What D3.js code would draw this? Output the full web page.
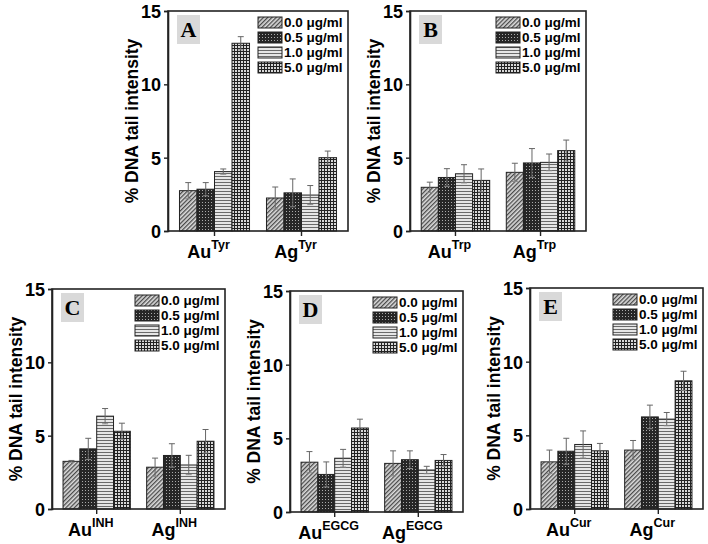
<!DOCTYPE html>
<html><head><meta charset="utf-8">
<script src="https://cdn.jsdelivr.net/npm/d3@7"></script>
<style>
html,body{margin:0;padding:0;background:#fff;}
svg{display:block;}
</style></head>
<body>
<svg id="chart" width="708" height="544"></svg>
<script>
// ---- data ----
const series = ["0.0 μg/ml", "0.5 μg/ml", "1.0 μg/ml", "5.0 μg/ml"];
const metals = ["Au", "Ag"];
const panelLetters = ["A", "B", "C", "D", "E"];
const ligands = ["Tyr", "Trp", "INH", "EGCG", "Cur"];
const yTicks = [0, 5, 10, 15];

const valuesA = [[2.75, 2.85, 4.05, 12.8], [2.25, 2.6, 2.45, 5.0]];
const errorsA = [[0.55, 0.45, 0.18, 0.45], [0.75, 0.95, 0.65, 0.45]];
const valuesB = [[2.98, 3.65, 3.9, 3.45], [4.0, 4.64, 4.68, 5.48]];
const errorsB = [[0.35, 0.6, 0.62, 0.78], [0.62, 0.98, 0.57, 0.72]];
const valuesC = [[3.25, 4.1, 6.33, 5.3], [2.85, 3.65, 3.0, 4.62]];
const errorsC = [[0.06, 0.72, 0.52, 0.55], [0.62, 0.8, 0.66, 0.8]];
const valuesD = [[3.38, 2.55, 3.65, 5.7], [3.3, 3.55, 2.85, 3.5]];
const errorsD = [[0.72, 0.85, 0.6, 0.6], [0.85, 0.6, 0.25, 0.4]];
const valuesE = [[3.2, 3.92, 4.38, 3.95], [4.0, 6.25, 6.1, 8.7]];
const errorsE = [[0.8, 0.88, 0.92, 0.5], [0.65, 0.8, 0.45, 0.65]];

const allValues = [valuesA, valuesB, valuesC, valuesD, valuesE];
const allErrors = [errorsA, errorsB, errorsC, errorsD, errorsE];

// ---- layout ----
const layout = [
  {l:168, r:348, t:11,  b:231},
  {l:410, r:586, t:11,  b:231},
  {l:52,  r:225, t:289, b:509},
  {l:290, r:463, t:291, b:512},
  {l:530, r:703, t:288, b:509}
];

const SANS = "'Liberation Sans', Arial, sans-serif";
const SERIF = "'Liberation Serif', 'Times New Roman', serif";

const svg = d3.select("#chart");
const defs = svg.append("defs");

// pattern 0: diagonal hatch
let p = defs.append("pattern").attr("id","pat0").attr("patternUnits","userSpaceOnUse")
  .attr("width",3).attr("height",3).attr("patternTransform","rotate(45)");
p.append("rect").attr("width",3).attr("height",3).attr("fill","#dcdcdc");
p.append("rect").attr("width",1.3).attr("height",3).attr("fill","#4a4a4a");
// pattern 1: dense dark checker
p = defs.append("pattern").attr("id","pat1").attr("patternUnits","userSpaceOnUse")
  .attr("width",3).attr("height",3);
p.append("rect").attr("width",3).attr("height",3).attr("fill","#262626");
p.append("rect").attr("x",1).attr("y",1).attr("width",1).attr("height",1).attr("fill","#aaa");
// pattern 2: horizontal lines
p = defs.append("pattern").attr("id","pat2").attr("patternUnits","userSpaceOnUse")
  .attr("width",3).attr("height",3);
p.append("rect").attr("width",3).attr("height",3).attr("fill","#e6e6e6");
p.append("rect").attr("y",2).attr("width",3).attr("height",1).attr("fill","#6a6a6a");
// pattern 3: grid mesh
p = defs.append("pattern").attr("id","pat3").attr("patternUnits","userSpaceOnUse")
  .attr("width",3).attr("height",3);
p.append("rect").attr("width",3).attr("height",3).attr("fill","#d8d8d8");
p.append("rect").attr("x",0).attr("width",1).attr("height",3).attr("fill","#222");
p.append("rect").attr("y",0).attr("width",3).attr("height",1).attr("fill","#222");

const fills = ["url(#pat0)","url(#pat1)","url(#pat2)","url(#pat3)"];

panelLetters.forEach((letter, pi) => {
  const L = layout[pi];
  const vals = allValues[pi], errs = allErrors[pi];
  const g = svg.append("g");

  const y = d3.scaleLinear().domain([0, 15]).range([L.b, L.t]);
  const x = d3.scaleBand().domain(metals).range([L.l, L.r]).paddingInner(0.195).paddingOuter(0.132);
  const xs = d3.scaleBand().domain(series).range([0, x.bandwidth()]).padding(0);

  // bars
  metals.forEach((m, mi) => {
    series.forEach((s, si) => {
      const v = vals[mi][si], e = errs[mi][si];
      const bx = x(m) + xs(s);
      g.append("rect").attr("x", bx).attr("y", y(v)).attr("width", xs.bandwidth())
        .attr("height", y(0) - y(v)).attr("fill", fills[si])
        .attr("stroke", "#222").attr("stroke-width", 1);
      const cx = bx + xs.bandwidth() / 2;
      const eg = g.append("g").attr("stroke", "#666").attr("stroke-width", 1);
      eg.append("line").attr("x1", cx).attr("x2", cx).attr("y1", y(v - e)).attr("y2", y(v + e));
      eg.append("line").attr("x1", cx - 3).attr("x2", cx + 3).attr("y1", y(v + e)).attr("y2", y(v + e));
      eg.append("line").attr("x1", cx - 3).attr("x2", cx + 3).attr("y1", y(v - e)).attr("y2", y(v - e)).attr("stroke","#888");
    });
  });

  // frame
  g.append("rect").attr("x", L.l).attr("y", L.t).attr("width", L.r - L.l).attr("height", L.b - L.t)
    .attr("fill", "none").attr("stroke", "#222").attr("stroke-width", 1.6);

  // y axis
  const ya = g.append("g").attr("transform", `translate(${L.l},0)`)
    .call(d3.axisLeft(y).tickValues(yTicks).tickSize(4).tickPadding(3).tickFormat(d3.format("d")));
  ya.select(".domain").attr("stroke", "#222").attr("stroke-width", 1.6);
  ya.selectAll(".tick line").attr("stroke", "#222").attr("stroke-width", 1.4);
  ya.selectAll(".tick text").attr("font-size", 18).attr("font-family", SANS)
    .attr("font-weight", "bold").attr("fill", "#000").attr("dy", "0.36em");

  // x axis
  const xa = g.append("g").attr("transform", `translate(0,${L.b})`)
    .call(d3.axisBottom(x).tickSize(5).tickFormat(""));
  xa.select(".domain").remove();
  xa.selectAll(".tick line").attr("stroke", "#222").attr("stroke-width", 1.4);
  metals.forEach(m => {
    const t = g.append("text").attr("x", x(m) + x.bandwidth() / 2 - 6).attr("y", L.b + 27)
      .attr("text-anchor", "middle").attr("font-size", 18)
      .attr("font-family", SANS).attr("font-weight", "bold");
    t.append("tspan").text(m);
    t.append("tspan").attr("dy", -9).attr("font-size", 12.5).text(ligands[pi]);
  });

  // y title
  g.append("text").attr("transform", `translate(${L.l - 36},${(L.t + L.b) / 2}) rotate(-90)`)
    .attr("text-anchor", "middle").attr("dominant-baseline", "central")
    .attr("font-family", SANS).attr("font-weight", "bold")
    .attr("font-size", 17.5).text("% DNA tail intensity");

  // letter box
  g.append("rect").attr("x", L.l + 9).attr("y", L.t + 4).attr("width", 23).attr("height", 29).attr("fill", "#d9d9d9");
  g.append("text").attr("x", L.l + 20.5).attr("y", L.t + 26).attr("text-anchor", "middle")
    .attr("font-family", SERIF).attr("font-weight", "bold").attr("font-size", 22).text(letter);

  // legend
  series.forEach((s, si) => {
    const ly = L.t + 6 + si * 15;
    g.append("rect").attr("x", L.r - 90).attr("y", ly).attr("width", 24).attr("height", 11)
      .attr("fill", fills[si]).attr("stroke", "#222").attr("stroke-width", 1);
    g.append("text").attr("x", L.r - 64).attr("y", ly + 10).attr("font-size", 13.5)
      .attr("font-family", SANS).attr("font-weight", "bold").text(s);
  });
});
</script>
</body></html>
